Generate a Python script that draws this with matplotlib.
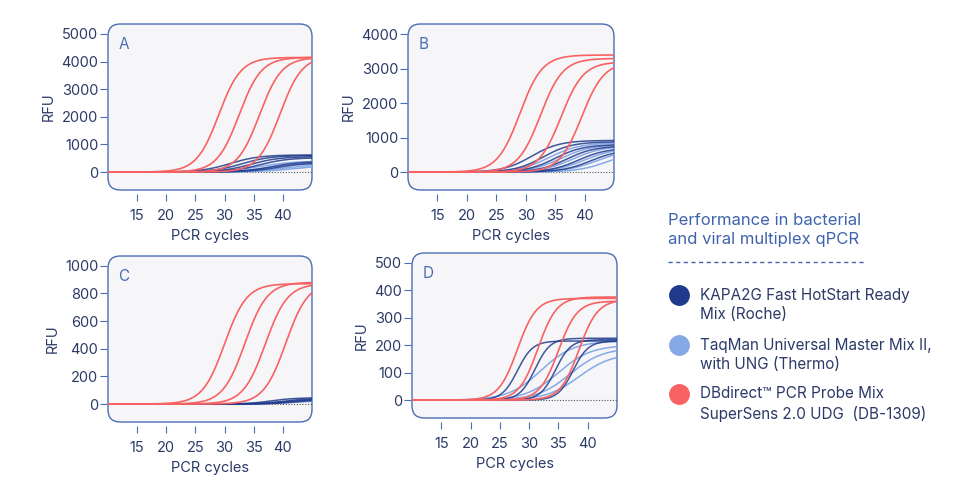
import numpy as np
import matplotlib.pyplot as plt
import matplotlib.transforms as mtrans
from matplotlib.patches import FancyBboxPatch
from matplotlib.lines import Line2D

plt.rcParams['font.family'] = ['Inter', 'DejaVu Sans']

NAVY = '#1f3a8a'
LIGHT = '#86a9e6'
RED = '#f86262'
FRAME = '#4a6db5'
TXT = '#2b3a67'

# per panel: (ct, plateau, steepness)
panels = ['A', 'B', 'C', 'D']
yticks = {'A': [0, 1000, 2000, 3000, 4000, 5000],
          'B': [0, 1000, 2000, 3000, 4000],
          'C': [0, 200, 400, 600, 800, 1000],
          'D': [0, 100, 200, 300, 400, 500]}
ylims = {'A': (-650, 5360), 'B': (-520, 4300), 'C': (-130, 1070), 'D': (-65, 535)}
red_ct = {'A': [29, 32.5, 36, 39.5], 'B': [29, 32.5, 36, 39.5],
          'C': [30, 33.5, 37, 40.5], 'D': [28, 31.5, 35, 38.5]}
red_plat = {'A': [4150, 4150, 4150, 4200], 'B': [3400, 3300, 3200, 3200],
            'C': [870, 880, 870, 880], 'D': [370, 375, 360, 365]}
red_k = {'A': 1.9, 'B': 1.9, 'C': 1.9, 'D': 1.6}
navy_ct = {'A': [31, 33, 34.5, 36, 38, 39], 'B': [31, 33, 35, 37, 39, 41],
           'C': [38, 40, 41, 42], 'D': [28, 31, 34.5, 37.5]}
navy_plat = {'A': [620, 600, 560, 520, 380, 330], 'B': [920, 880, 800, 760, 700, 650],
             'C': [45, 40, 35, 30], 'D': [215, 225, 220, 215]}
navy_k = {'A': 2.5, 'B': 2.4, 'C': 2.0, 'D': 1.3}
light_ct = {'A': [36, 38, 40, 42], 'B': [34, 36, 38, 40, 42, 44],
            'C': [40, 42], 'D': [32, 35, 37, 38.5]}
light_plat = {'A': [400, 350, 280, 250], 'B': [850, 800, 760, 700, 650, 620],
              'C': [30, 25], 'D': [215, 200, 190, 170]}
light_k = {'A': 3.0, 'B': 2.6, 'C': 2.5, 'D': 2.8}

# axes boxes in pixels (left, top, right, bottom)
boxes = {'A': (108, 24, 312, 190), 'B': (408, 24, 614, 190),
         'C': (108, 256, 312, 422), 'D': (412, 253, 617, 418)}

W, H = 967, 488
fig = plt.figure(figsize=(W / 100, H / 100), dpi=100)
x = np.linspace(10, 45, 300)


def curve(ct, plat, k):
    return plat / (1 + np.exp(-(x - ct) / k))


for p in panels:
    l, t, r, b = boxes[p]
    ax = fig.add_axes([l / W, 1 - b / H, (r - l) / W, (b - t) / H])
    ax.set_xlim(10, 45)
    ax.set_ylim(*ylims[p])
    for s in ax.spines.values():
        s.set_visible(False)
    ax.patch.set_visible(False)
    ax.add_patch(FancyBboxPatch((0.0, 0.0), 1, 1, boxstyle='round,pad=0,rounding_size=0.06',
                                transform=ax.transAxes, fc='#f6f6f8', ec=FRAME, lw=1.0,
                                zorder=0, clip_on=False, mutation_aspect=(r - l) / (b - t)))
    ax.plot([28 if p != 'D' else 30, 45], [0, 0], ls=(0, (1, 1.5)), color='#555', lw=0.8, zorder=1)
    for c, pl in zip(light_ct[p], light_plat[p]):
        ax.plot(x, curve(c, pl, light_k[p]), color=LIGHT, lw=1.1, zorder=2)
    for c, pl in zip(navy_ct[p], navy_plat[p]):
        ax.plot(x, curve(c, pl, navy_k[p]), color=NAVY, lw=1.1, alpha=0.85, zorder=3)
    for c, pl in zip(red_ct[p], red_plat[p]):
        ax.plot(x, curve(c, pl, red_k[p]), color=RED, lw=1.2, zorder=4)
    ax.set_xticks([15, 20, 25, 30, 35, 40])
    ax.set_yticks(yticks[p])
    ax.tick_params(axis='x', direction='out', length=5, color=FRAME, labelcolor=TXT,
                   labelsize=10.5, pad=9)
    ax.tick_params(axis='y', direction='out', length=5, color=FRAME, labelcolor=TXT,
                   labelsize=10.5, pad=2)
    for tl in ax.get_xticklines():
        tl.set_transform(tl.get_transform() + mtrans.ScaledTranslation(0, -3 / 72, fig.dpi_scale_trans))
    for tl in ax.get_yticklines():
        tl.set_transform(tl.get_transform() + mtrans.ScaledTranslation(-1 / 72, 0, fig.dpi_scale_trans))
    ax.set_xlabel('PCR cycles', color=TXT, fontsize=10.5, labelpad=4)
    ax.set_ylabel('RFU', color=TXT, fontsize=10.5, labelpad=4)
    ax.text(0.05, 0.92, p, transform=ax.transAxes, color=FRAME, fontsize=11, va='top')

# legend
fig.text(668 / W, 1 - 230 / H, 'Performance in bacterial\nand viral multiplex qPCR',
         color='#3f63ad', fontsize=12, va='center', linespacing=1.3)
fig.add_artist(Line2D([668 / W, 865 / W], [1 - 262 / H] * 2, color='#3f63ad', lw=1,
                      ls=(0, (3, 2.5))))
labels = ['KAPA2G Fast HotStart Ready\nMix (Roche)',
          'TaqMan Universal Master Mix II,\nwith UNG (Thermo)',
          'DBdirect\u2122 PCR Probe Mix\nSuperSens 2.0 UDG  (DB-1309)']
colors = [NAVY, LIGHT, RED]
ys = [305, 355, 404]
for lab, c, yy in zip(labels, colors, ys):
    fig.add_artist(Line2D([679 / W], [1 - (yy - 10) / H], marker='o', ms=14,
                          color=c, transform=fig.transFigure))
    fig.text(700 / W, 1 - yy / H, lab, color=TXT, fontsize=11, va='center', linespacing=1.4)

fig.savefig('out.png', dpi=100)
